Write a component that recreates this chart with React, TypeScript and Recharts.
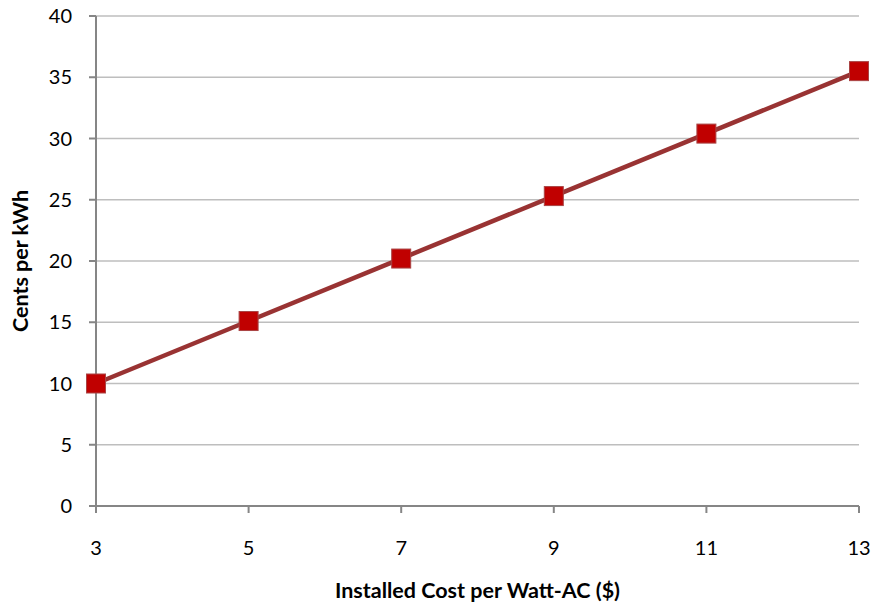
import { LineChart, Line, XAxis, YAxis, CartesianGrid } from "recharts";

const costPerWatt = ["3", "5", "7", "9", "11", "13"];
const centsPerKwh = [10.0, 15.1, 20.2, 25.3, 30.4, 35.5];
const yTicks = [0, 5, 10, 15, 20, 25, 30, 35, 40];

const data = costPerWatt.map((cost, i) => ({ cost, cents: centsPerKwh[i] }));

const font = "Lato, 'Open Sans', sans-serif";

function SquareDot(props: any) {
  const { cx, cy } = props;
  if (cx == null || cy == null) return null;
  const s = 19;
  return (
    <rect
      x={cx - s / 2}
      y={cy - s / 2}
      width={s}
      height={s}
      fill="#C00000"
      stroke="#A94444"
      strokeWidth={1}
    />
  );
}

export default function App() {
  return (
    <div style={{ position: "absolute", left: 0, top: 0, background: "#fff" }}>
      <LineChart
        width={872}
        height={606}
        data={data}
        margin={{ top: 16, right: 13, left: 0, bottom: 0 }}
        style={{ fontFamily: font }}
      >
        <CartesianGrid vertical={false} stroke="#BEBEBE" strokeWidth={1.5} />
        <XAxis
          dataKey="cost"
          height={100}
          stroke="#868686"
          strokeWidth={2}
          tickSize={7}
          tickMargin={28}
          tick={{ fill: "#000", fontSize: 20 }}
          label={{
            value: "Installed Cost per Watt-AC ($)",
            position: "insideBottom",
            offset: 8,
            style: { fontWeight: 700, fontSize: 21.5, fill: "#000" },
          }}
        />
        <YAxis
          width={96}
          domain={[0, 40]}
          ticks={yTicks}
          interval={0}
          stroke="#868686"
          strokeWidth={2}
          tickSize={7}
          tickMargin={17}
          tick={{ fill: "#000", fontSize: 20 }}
          label={{
            value: "Cents per kWh",
            angle: -90,
            position: "insideLeft",
            offset: 20,
            style: { textAnchor: "middle", fontWeight: 700, fontSize: 21.5, fill: "#000" },
          }}
        />
        <Line
          type="linear"
          dataKey="cents"
          stroke="#993333"
          strokeWidth={4.5}
          dot={<SquareDot />}
          activeDot={false}
          isAnimationActive={false}
        />
      </LineChart>
    </div>
  );
}
